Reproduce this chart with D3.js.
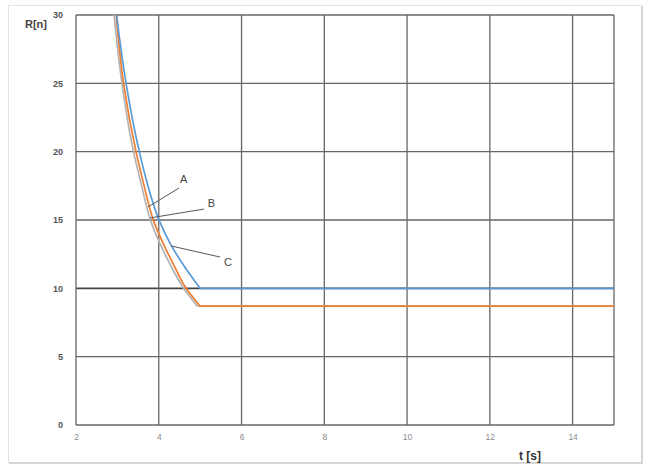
<!DOCTYPE html>
<html><head><meta charset="utf-8">
<script src="https://cdn.jsdelivr.net/npm/d3@7"></script>
<style>body{margin:0;background:#fff}svg{display:block}</style>
</head><body>
<svg id="c" width="650" height="472"></svg>
<script>
// ---- data ----
const xTicks = [2, 4, 6, 8, 10, 12, 14];
const yTicks = [0, 5, 10, 15, 20, 25, 30];
const seriesNames = ["C", "B", "A"];
const tGray   = [2.92, 3.11, 3.39, 3.57, 3.81, 4.04, 4.30, 4.58, 4.93, 15];
const rGray   = [30, 25, 20, 17.7, 14.9, 13.2, 11.6, 10.1, 8.7, 8.7];
const tOrange = [2.97, 3.15, 3.45, 3.63, 3.88, 4.12, 4.38, 4.64, 5.00, 15];
const rOrange = [30, 25, 20, 17.7, 14.9, 13.2, 11.6, 10.1, 8.7, 8.7];
const tBlue   = [2.98, 3.21, 3.53, 3.72, 4.02, 4.29, 4.62, 5.00, 15];
const rBlue   = [30, 25, 20, 17.7, 14.9, 13.2, 11.6, 10, 10];
// annotation labels
const annLabels = ["A", "B", "C"];
const annText   = [[4.60, 17.9], [5.27, 16.2], [5.67, 11.85]];
const annFrom   = [[3.74, 15.95], [3.79, 15.15], [4.30, 13.1]];
const annTo     = [[4.49, 17.34], [5.09, 15.8], [5.48, 12.29]];

const svg = d3.select("#c");
const x = d3.scaleLinear().domain([2, 15]).range([76, 614]);
const y = d3.scaleLinear().domain([0, 30]).range([425, 15]);

// outer frame
svg.append("rect").attr("x", 8.5).attr("y", 5.5).attr("width", 633).attr("height", 457)
  .attr("fill", "#fff").attr("stroke", "#e3e3e3").attr("stroke-width", 1);
svg.append("line").attr("x1", 642).attr("x2", 642).attr("y1", 6).attr("y2", 463).attr("stroke", "#d6d6d6").attr("stroke-width", 2);
svg.append("line").attr("x1", 9).attr("x2", 643).attr("y1", 463).attr("y2", 463).attr("stroke", "#d6d6d6").attr("stroke-width", 2);

const g = svg.append("g");
const gridColor = "#666";
g.selectAll(".hg").data(yTicks).join("line")
  .attr("x1", x(2)).attr("x2", x(15))
  .attr("y1", d => y(d)).attr("y2", d => y(d))
  .attr("stroke", d => d === 10 ? "#444" : gridColor).attr("stroke-width", d => d === 10 ? 1.8 : 1.3);
g.selectAll(".vg").data(xTicks.concat([15])).join("line")
  .attr("x1", d => x(d)).attr("x2", d => x(d))
  .attr("y1", y(0)).attr("y2", y(30))
  .attr("stroke", gridColor).attr("stroke-width", 1.3);

const xAxis = svg.append("g").attr("transform", `translate(0,${y(0)})`)
  .call(d3.axisBottom(x).tickValues(xTicks).tickSize(0).tickPadding(9).tickFormat(d3.format("d")));
xAxis.select(".domain").remove();
xAxis.selectAll("text").attr("fill", "#8a8a8a").style("font-family", "Liberation Sans, Arial").style("font-size", "8.5px");

const yAxis = svg.append("g").attr("transform", `translate(${x(2)},0)`)
  .call(d3.axisLeft(y).tickValues(yTicks).tickSize(0).tickPadding(13).tickFormat(d3.format("d")));
yAxis.select(".domain").remove();
yAxis.selectAll("text").attr("fill", "#555").style("font-family", "Liberation Sans, Arial").style("font-weight", "bold").style("font-size", "9px");

svg.append("text").attr("x", 25).attr("y", 28).text("R[n]")
  .attr("fill", "#444").style("font-family", "Liberation Sans, Arial").style("font-weight", "bold").style("font-size", "11px");
svg.append("text").attr("x", 519).attr("y", 460).text("t [s]")
  .attr("fill", "#333").style("font-family", "Liberation Sans, Arial").style("font-weight", "bold").style("font-size", "12px");

function drawSeries(ts, rs, color) {
  const pts = ts.map((t, i) => [t, rs[i]]);
  const k = pts.length - 2;
  const fall = pts.slice(0, k + 1);
  const flat = pts.slice(k);
  svg.append("path").datum(fall)
    .attr("d", d3.line().x(d => x(d[0])).y(d => y(d[1])).curve(d3.curveMonotoneY))
    .attr("fill", "none").attr("stroke", color).attr("stroke-width", 1.7);
  svg.append("path").datum(flat)
    .attr("d", d3.line().x(d => x(d[0])).y(d => y(d[1])))
    .attr("fill", "none").attr("stroke", color).attr("stroke-width", 1.7);
}
drawSeries(tGray, rGray, "#b3b3b3");
drawSeries(tOrange, rOrange, "#ed7d31");
drawSeries(tBlue, rBlue, "#5b9bd5");

annLabels.forEach((lab, i) => {
  svg.append("line")
    .attr("x1", x(annFrom[i][0])).attr("y1", y(annFrom[i][1]))
    .attr("x2", x(annTo[i][0])).attr("y2", y(annTo[i][1]))
    .attr("stroke", "#555").attr("stroke-width", 1);
  svg.append("text").attr("x", x(annText[i][0])).attr("y", y(annText[i][1]))
    .attr("text-anchor", "middle").attr("dominant-baseline", "middle")
    .text(lab).attr("fill", "#444").style("font-family", "Liberation Sans, Arial").style("font-size", "11px");
});
</script>
</body></html>
